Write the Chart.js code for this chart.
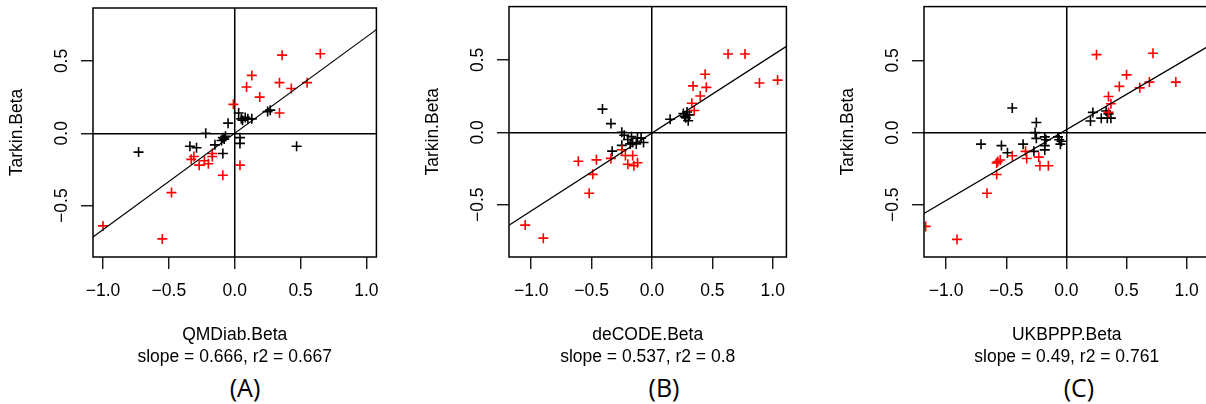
<!DOCTYPE html>
<html>
<head>
<meta charset="utf-8">
<script src="https://cdn.jsdelivr.net/npm/chart.js@4.4.0/dist/chart.umd.min.js"></script>
<style>
html,body{margin:0;padding:0;background:#fff;overflow:hidden;width:1206px;height:404px;}
.panel{position:absolute;top:0;}
.tag{position:absolute;font-family:'Open Sans',sans-serif;font-size:25px;color:#000;transform:translate(-50%,-50%);line-height:1;white-space:nowrap;}
</style>
</head>
<body>
<div class="panel" id="pA"><canvas id="cA"></canvas></div>
<div class="panel" id="pB"><canvas id="cB"></canvas></div>
<div class="panel" id="pC"><canvas id="cC"></canvas></div>
<div class="tag" id="tA" style="left:245px;top:387px">(A)</div>
<div class="tag" id="tB" style="left:664px;top:387px">(B)</div>
<div class="tag" id="tC" style="left:1079px;top:387px">(C)</div>
<script>
// ---------- data ----------
const panelNames = ['A', 'B', 'C'];
const xAxisTitles = ['QMDiab.Beta', 'deCODE.Beta', 'UKBPPP.Beta'];
const yAxisTitle = 'Tarkin.Beta';
const slopes = [0.666, 0.537, 0.49];
const r2s = [0.667, 0.8, 0.761];
const statLabels = ['slope = 0.666, r2 = 0.667', 'slope = 0.537, r2 = 0.8', 'slope = 0.49, r2 = 0.761'];
const intercepts = [0.0, -0.005, 0.02];
const xTickValues = [-1, -0.5, 0, 0.5, 1];
const xTickLabels = ['\u22121.0', '\u22120.5', '0.0', '0.5', '1.0'];
const yTickValues = [-0.5, 0, 0.5];
const yTickLabels = ['\u22120.5', '0.0', '0.5'];

const redA = [[0.36,0.54],[0.65,0.55],[0.13,0.40],[0.09,0.32],[0.34,0.35],[0.43,0.31],[0.55,0.35],[0.19,0.25],[-0.01,0.20],[0.34,0.14],
  [-0.33,-0.18],[-0.31,-0.16],[-0.27,-0.22],[-0.23,-0.19],[-0.20,-0.21],[-0.17,-0.16],[-0.17,-0.14],[-0.09,-0.29],[0.04,-0.22],
  [-0.48,-0.41],[-1.00,-0.64],[-0.55,-0.73]];
const blackA = [[-0.73,-0.13],[-0.22,0.00],[-0.05,0.07],[-0.34,-0.09],[-0.29,-0.10],[-0.15,-0.08],[-0.09,-0.03],[-0.08,-0.04],
  [-0.10,-0.05],[-0.07,-0.02],[-0.09,-0.14],[0.04,-0.03],[0.04,-0.07],[0.03,0.14],[0.05,0.10],[0.06,0.09],[0.08,0.11],
  [0.10,0.10],[0.13,0.10],[0.25,0.15],[0.27,0.16],[0.47,-0.09]];

const redB = [[0.63,0.54],[0.77,0.54],[0.89,0.34],[1.04,0.36],[0.44,0.40],[0.34,0.32],[0.45,0.31],[0.40,0.25],[0.33,0.20],[0.35,0.15],
  [-0.61,-0.20],[-0.46,-0.19],[-0.49,-0.29],[-0.52,-0.42],[-1.05,-0.64],[-0.90,-0.73],[-0.34,-0.18],[-0.25,-0.12],
  [-0.22,-0.16],[-0.20,-0.22],[-0.16,-0.16],[-0.15,-0.23],[-0.12,-0.21]];
const blackB = [[-0.41,0.16],[-0.34,0.06],[-0.25,0.00],[-0.33,-0.13],[-0.25,-0.09],[-0.23,-0.02],[-0.17,-0.03],[-0.16,-0.07],
  [-0.12,-0.04],[-0.09,-0.04],[-0.07,-0.07],[-0.18,-0.08],[-0.13,-0.08],[-0.20,-0.05],
  [0.15,0.09],[0.26,0.13],[0.29,0.14],[0.28,0.10],[0.30,0.08],[0.31,0.12],[0.27,0.11]];

const redC = [[0.25,0.54],[0.72,0.55],[0.50,0.40],[0.44,0.32],[0.61,0.31],[0.69,0.35],[0.91,0.35],[0.35,0.25],[0.37,0.20],[0.35,0.14],
  [-1.17,-0.65],[-0.91,-0.74],[-0.66,-0.42],[-0.58,-0.29],[-0.58,-0.21],[-0.57,-0.20],[-0.55,-0.19],[-0.45,-0.16],
  [-0.34,-0.13],[-0.33,-0.18],[-0.23,-0.17],[-0.22,-0.23],[-0.15,-0.23]];
const blackC = [[-0.45,0.17],[-0.71,-0.08],[-0.54,-0.09],[-0.49,-0.14],[-0.36,-0.08],[-0.27,-0.13],[-0.25,0.07],[-0.26,0.00],
  [-0.25,-0.04],[-0.18,-0.03],[-0.17,-0.05],[-0.18,-0.09],[-0.18,-0.12],[-0.07,-0.03],[-0.06,-0.05],[-0.04,-0.06],[-0.05,-0.08],
  [0.20,0.08],[0.22,0.14],[0.29,0.10],[0.33,0.15],[0.34,0.10],[0.37,0.10],[0.35,0.13]];

const redSets = [redA, redB, redC];
const blackSets = [blackA, blackB, blackC];

// ---------- layout (pixels & axis ranges) ----------
const boxes = [
  {left:93,  top:8, right:377,  bottom:257, xmin:-1.076, xmax:1.076, ymin:-0.855, ymax:0.866},
  {left:509, top:6, right:787,  bottom:257, xmin:-1.184, xmax:1.113, ymin:-0.860, ymax:0.867},
  {left:924, top:6, right:1210, bottom:257, xmin:-1.184, xmax:1.189, ymin:-0.862, ymax:0.873}
];
const Y_AXIS_W = 87, X_AXIS_H = 111, PAD_R = 6, H = 368;
const FONT = "'Liberation Sans', Arial, sans-serif";
const FS = 17.5;

const framePlugin = {
  id: 'frame',
  afterDatasetsDraw(chart) {
    const {ctx, chartArea: a} = chart;
    ctx.save();
    ctx.strokeStyle = '#000';
    ctx.lineWidth = 1.5;
    ctx.strokeRect(a.left, a.top, a.right - a.left, a.bottom - a.top);
    ctx.restore();
  }
};

function toPts(arr) { return arr.map(p => ({x: p[0], y: p[1]})); }
function zeroPad(s) { s.paddingLeft = 0; s.paddingRight = 0; s.paddingTop = 0; s.paddingBottom = 0; }

function makeChart(i) {
  const b = boxes[i];
  const div = document.getElementById('p' + panelNames[i]);
  const W = Y_AXIS_W + (b.right - b.left) + PAD_R;
  div.style.left = (b.left - Y_AXIS_W) + 'px';
  div.style.width = W + 'px';
  div.style.height = H + 'px';
  const lineData = [
    {x: b.xmin, y: intercepts[i] + slopes[i] * b.xmin},
    {x: b.xmax, y: intercepts[i] + slopes[i] * b.xmax}
  ];
  const zeroColor = c => (c.tick && c.tick.value === 0) ? '#000' : 'rgba(0,0,0,0)';
  new Chart(document.getElementById('c' + panelNames[i]), {
    type: 'scatter',
    data: {
      datasets: [
        {type: 'line', data: lineData, borderColor: '#000', borderWidth: 1.2, pointRadius: 0, fill: false, clip: 0},
        {data: toPts(redSets[i]), pointStyle: 'cross', pointRadius: 5, borderColor: '#ff0000', backgroundColor: '#ff0000', pointBorderWidth: 1.6, borderWidth: 1.6, clip: 0},
        {data: toPts(blackSets[i]), pointStyle: 'cross', pointRadius: 5, borderColor: '#000000', backgroundColor: '#000000', pointBorderWidth: 1.6, borderWidth: 1.6, clip: 0}
      ]
    },
    options: {
      responsive: true, maintainAspectRatio: false, animation: false, devicePixelRatio: 1, events: [],
      layout: {padding: {top: b.top, right: PAD_R, bottom: 0, left: 0}},
      plugins: {legend: {display: false}, tooltip: {enabled: false}, title: {display: false}},
      scales: {
        x: {
          type: 'linear', position: 'bottom', min: b.xmin, max: b.xmax,
          afterBuildTicks: s => { s.ticks = xTickValues.map(v => ({value: v})); },
          afterFit: s => { s.height = X_AXIS_H; zeroPad(s); },
          ticks: {callback: (v, idx) => xTickLabels[idx], autoSkip: false, maxRotation: 0, minRotation: 0, padding: 12,
                  color: '#000', font: {family: FONT, size: FS, lineHeight: 1.2}},
          grid: {drawOnChartArea: true, drawTicks: true, tickLength: 12, tickWidth: 1.3, tickColor: '#000', color: zeroColor, lineWidth: 1.5},
          border: {display: false},
          title: {display: true, text: [xAxisTitles[i], statLabels[i]], color: '#000', padding: 0,
                  font: {family: FONT, size: FS, lineHeight: 1.24}}
        },
        y: {
          type: 'linear', position: 'left', min: b.ymin, max: b.ymax,
          afterBuildTicks: s => { s.ticks = yTickValues.map(v => ({value: v})); },
          afterFit: s => { s.width = Y_AXIS_W; zeroPad(s); },
          ticks: {callback: (v, idx) => yTickLabels[idx], autoSkip: false, minRotation: 90, maxRotation: 90, crossAlign: 'center', padding: 2,
                  color: '#000', font: {family: FONT, size: FS, lineHeight: 1.2}},
          grid: {drawOnChartArea: true, drawTicks: true, tickLength: 12, tickWidth: 1.3, tickColor: '#000', color: zeroColor, lineWidth: 1.5},
          border: {display: false},
          title: {display: true, text: yAxisTitle, color: '#000', padding: 0,
                  font: {family: FONT, size: FS, lineHeight: 1.24}}
        }
      }
    },
    plugins: [framePlugin]
  });
}
[0, 1, 2].forEach(makeChart);
</script>
</body>
</html>
